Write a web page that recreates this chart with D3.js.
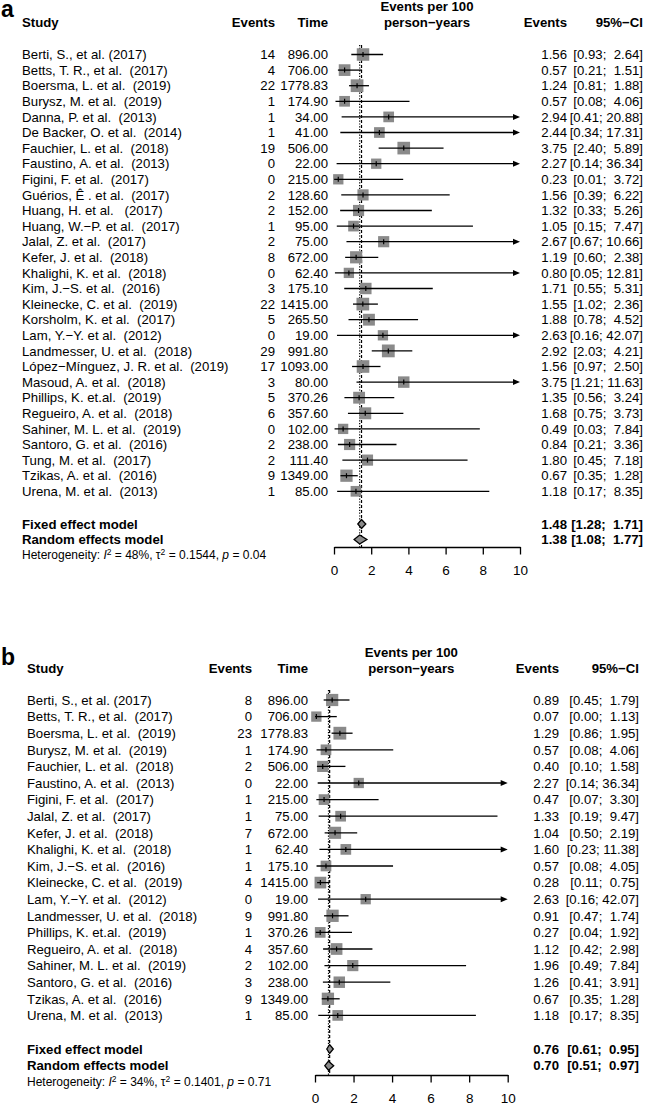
<!DOCTYPE html>
<html>
<head>
<meta charset="utf-8">
<script src="https://cdn.jsdelivr.net/npm/d3@7"></script>
<style>
  body { margin: 0; background: #fff; }
  svg text { font-family: "Liberation Sans", Arial, Helvetica, sans-serif; white-space: pre; }
</style>
</head>
<body>
<svg id="chart" width="649" height="1106"></svg>
<script>
// ---- panel a data ----
var studiesA = ["Berti, S., et al. (2017)", "Betts, T. R., et al.  (2017)", "Boersma, L. et al.  (2019)",
  "Burysz, M. et al.  (2019)", "Danna, P. et al.  (2013)", "De Backer, O. et al.  (2014)",
  "Fauchier, L. et al.  (2018)", "Faustino, A. et al.  (2013)", "Figini, F. et al.  (2017)",
  "Guérios, Ê . et al.  (2017)", "Huang, H. et al.   (2017)", "Huang, W.−P. et al.  (2017)",
  "Jalal, Z. et al.  (2017)", "Kefer, J. et al.  (2018)", "Khalighi, K. et al.  (2018)",
  "Kim, J.−S. et al.  (2016)", "Kleinecke, C. et al.  (2019)", "Korsholm, K. et al.  (2017)",
  "Lam, Y.−Y. et al.  (2012)", "Landmesser, U. et al.  (2018)", "López−Mínguez, J. R. et al.  (2019)",
  "Masoud, A. et al.  (2018)", "Phillips, K. et.al.  (2019)", "Regueiro, A. et al.  (2018)",
  "Sahiner, M. L. et al.  (2019)", "Santoro, G. et al.  (2016)", "Tung, M. et al.  (2017)",
  "Tzikas, A. et al.  (2016)", "Urena, M. et al.  (2013)"];
var eventsA = [14, 4, 22, 1, 1, 1, 19, 0, 0, 2, 2, 1, 2, 8, 0, 3, 22, 5, 0, 29, 17, 3, 5, 6, 0, 2, 2, 9, 1];
var timeA = [896.00, 706.00, 1778.83, 174.90, 34.00, 41.00, 506.00, 22.00, 215.00, 128.60, 152.00, 95.00,
  75.00, 672.00, 62.40, 175.10, 1415.00, 265.50, 19.00, 991.80, 1093.00, 80.00, 370.26, 357.60,
  102.00, 238.00, 111.40, 1349.00, 85.00];
var rateA = [1.56, 0.57, 1.24, 0.57, 2.94, 2.44, 3.75, 2.27, 0.23, 1.56, 1.32, 1.05, 2.67, 1.19, 0.80,
  1.71, 1.55, 1.88, 2.63, 2.92, 1.56, 3.75, 1.35, 1.68, 0.49, 0.84, 1.80, 0.67, 1.18];
var lowerA = [0.93, 0.21, 0.81, 0.08, 0.41, 0.34, 2.40, 0.14, 0.01, 0.39, 0.33, 0.15, 0.67, 0.60, 0.05,
  0.55, 1.02, 0.78, 0.16, 2.03, 0.97, 1.21, 0.56, 0.75, 0.03, 0.21, 0.45, 0.35, 0.17];
var upperA = [2.64, 1.51, 1.88, 4.06, 20.88, 17.31, 5.89, 36.34, 3.72, 6.22, 5.26, 7.47, 10.66, 2.38, 12.81,
  5.31, 2.36, 4.52, 42.07, 4.21, 2.50, 11.63, 3.24, 3.73, 7.84, 3.36, 7.18, 1.28, 8.35];
var fixedA = [1.48, 1.28, 1.71];
var randomA = [1.38, 1.08, 1.77];
var hetA = { i2: "48%", tau2: "0.1544", p: "0.04" };

// ---- panel b data ----
var studiesB = ["Berti, S., et al. (2017)", "Betts, T. R., et al.  (2017)", "Boersma, L. et al.  (2019)",
  "Burysz, M. et al.  (2019)", "Fauchier, L. et al.  (2018)", "Faustino, A. et al.  (2013)",
  "Figini, F. et al.  (2017)", "Jalal, Z. et al.  (2017)", "Kefer, J. et al.  (2018)",
  "Khalighi, K. et al.  (2018)", "Kim, J.−S. et al.  (2016)", "Kleinecke, C. et al.  (2019)",
  "Lam, Y.−Y. et al.  (2012)", "Landmesser, U. et al.  (2018)", "Phillips, K. et.al.  (2019)",
  "Regueiro, A. et al.  (2018)", "Sahiner, M. L. et al.  (2019)", "Santoro, G. et al.  (2016)",
  "Tzikas, A. et al.  (2016)", "Urena, M. et al.  (2013)"];
var eventsB = [8, 0, 23, 1, 2, 0, 1, 1, 7, 1, 1, 4, 0, 9, 1, 4, 2, 3, 9, 1];
var timeB = [896.00, 706.00, 1778.83, 174.90, 506.00, 22.00, 215.00, 75.00, 672.00, 62.40, 175.10, 1415.00,
  19.00, 991.80, 370.26, 357.60, 102.00, 238.00, 1349.00, 85.00];
var rateB = [0.89, 0.07, 1.29, 0.57, 0.40, 2.27, 0.47, 1.33, 1.04, 1.60, 0.57, 0.28, 2.63, 0.91, 0.27,
  1.12, 1.96, 1.26, 0.67, 1.18];
var lowerB = [0.45, 0.00, 0.86, 0.08, 0.10, 0.14, 0.07, 0.19, 0.50, 0.23, 0.08, 0.11, 0.16, 0.47, 0.04,
  0.42, 0.49, 0.41, 0.35, 0.17];
var upperB = [1.79, 1.13, 1.95, 4.06, 1.58, 36.34, 3.30, 9.47, 2.19, 11.38, 4.05, 0.75, 42.07, 1.74, 1.92,
  2.98, 7.84, 3.91, 1.28, 8.35];
var fixedB = [0.76, 0.61, 0.95];
var randomB = [0.70, 0.51, 0.97];
var hetB = { i2: "34%", tau2: "0.1401", p: "0.71" };

var axisTicks = [0, 2, 4, 6, 8, 10];

var svg = d3.select("#chart");
var FS = 13.2;

function ciText(lo, hi) {
  var h = hi.toFixed(2);
  if (hi < 10) h = " " + h;
  return "[" + lo.toFixed(2) + "; " + h + "]";
}

function drawPanel(p) {
  var g = svg.append("g");
  var x = d3.scaleLinear().domain([0, 10]).range([p.x0, p.x1]);
  var n = p.studies.length;
  var rowY = function(i) { return p.row0 + i * p.step; };

  // box size from random-effects weight
  var w = p.events.map(function(e) { return Math.sqrt(1 / (1 / Math.max(e, 0.5) + +p.het.tau2)); });
  var size = d3.scaleLinear().domain(d3.extent(w)).range([10.3, 12.8]);

  g.append("text").attr("x", 1).attr("y", p.labelY)
    .attr("font-size", 23).attr("font-weight", "bold").text(p.label);

  // headers
  var hdr = g.append("g").attr("font-size", FS).attr("font-weight", "bold");
  hdr.append("text").attr("x", p.studyX).attr("y", p.hdrY).text("Study");
  hdr.append("text").attr("x", p.eventsX).attr("y", p.hdrY).attr("text-anchor", "end").text("Events");
  hdr.append("text").attr("x", p.timeX).attr("y", p.hdrY).attr("text-anchor", "end").text("Time");
  hdr.append("text").attr("x", (p.x0 + p.x1) / 2).attr("y", p.hdrY - 16).attr("text-anchor", "middle").text("Events per 100");
  hdr.append("text").attr("x", (p.x0 + p.x1) / 2).attr("y", p.hdrY).attr("text-anchor", "middle").text("person−years");
  hdr.append("text").attr("x", p.estX).attr("y", p.hdrY).attr("text-anchor", "end").text("Events");
  hdr.append("text").attr("x", p.ciX).attr("y", p.hdrY).attr("text-anchor", "end").text("95%−CI");

  // reference lines
  g.append("line").attr("x1", x(p.fixed[0])).attr("x2", x(p.fixed[0]))
    .attr("y1", p.lineTop).attr("y2", p.axisY)
    .attr("stroke", "#000").attr("stroke-width", 1.2).attr("stroke-dasharray", "3,2");
  g.append("line").attr("x1", x(p.random[0])).attr("x2", x(p.random[0]))
    .attr("y1", p.lineTop).attr("y2", p.axisY)
    .attr("stroke", "#000").attr("stroke-width", 1.2).attr("stroke-dasharray", "1.2,1.6");

  var rows = g.selectAll(".row").data(d3.range(n)).join("g").attr("class", "row");
  rows.append("text").attr("x", p.studyX).attr("y", rowY).attr("dy", "0.36em")
    .attr("font-size", FS).text(function(i) { return p.studies[i]; });
  rows.append("text").attr("x", p.eventsX).attr("y", rowY).attr("dy", "0.36em")
    .attr("font-size", FS).attr("text-anchor", "end").text(function(i) { return p.events[i]; });
  rows.append("text").attr("x", p.timeX).attr("y", rowY).attr("dy", "0.36em")
    .attr("font-size", FS).attr("text-anchor", "end").text(function(i) { return p.time[i].toFixed(2); });
  rows.append("text").attr("x", p.estX).attr("y", rowY).attr("dy", "0.36em")
    .attr("font-size", FS).attr("text-anchor", "end").text(function(i) { return p.rate[i].toFixed(2); });
  rows.append("text").attr("x", p.ciX).attr("y", rowY).attr("dy", "0.36em")
    .attr("font-size", FS).attr("text-anchor", "end").text(function(i) { return ciText(p.lower[i], p.upper[i]); });

  rows.append("rect")
    .attr("x", function(i) { return x(p.rate[i]) - size(w[i]) / 2; })
    .attr("y", function(i) { return rowY(i) - size(w[i]) / 2; })
    .attr("width", function(i) { return size(w[i]); })
    .attr("height", function(i) { return size(w[i]); })
    .attr("fill", "#8a8a8a");
  rows.append("line")
    .attr("x1", function(i) { return x(p.lower[i]); })
    .attr("x2", function(i) { return p.upper[i] > 10 ? x(10) - 5 : x(p.upper[i]); })
    .attr("y1", rowY).attr("y2", rowY)
    .attr("stroke", "#000").attr("stroke-width", 1.3);
  rows.append("line")
    .attr("x1", function(i) { return x(p.rate[i]); })
    .attr("x2", function(i) { return x(p.rate[i]); })
    .attr("y1", function(i) { return rowY(i) - 2.5; })
    .attr("y2", function(i) { return rowY(i) + 2.5; })
    .attr("stroke", "#000").attr("stroke-width", 1.2);
  rows.filter(function(i) { return p.upper[i] > 10; }).append("path")
    .attr("d", function(i) {
      var xe = x(10), y = rowY(i);
      return "M" + xe + "," + y + "L" + (xe - 7) + "," + (y - 3) + "L" + (xe - 7) + "," + (y + 3) + "Z";
    })
    .attr("fill", "#000");

  // pooled estimates
  var pooled = [["Fixed effect model", p.fixed, p.fixedY], ["Random effects model", p.random, p.randomY]];
  pooled.forEach(function(d) {
    var est = d[1], y = d[2];
    g.append("text").attr("x", p.studyX).attr("y", y).attr("dy", "0.36em")
      .attr("font-size", FS).attr("font-weight", "bold").text(d[0]);
    g.append("text").attr("x", p.estX).attr("y", y).attr("dy", "0.36em")
      .attr("font-size", FS).attr("font-weight", "bold").attr("text-anchor", "end").text(est[0].toFixed(2));
    g.append("text").attr("x", p.ciX).attr("y", y).attr("dy", "0.36em")
      .attr("font-size", FS).attr("font-weight", "bold").attr("text-anchor", "end").text(ciText(est[1], est[2]));
    g.append("path")
      .attr("d", "M" + x(est[1]) + "," + y + "L" + x(est[0]) + "," + (y - 4.5) + "L" + x(est[2]) + "," + y +
        "L" + x(est[0]) + "," + (y + 4.5) + "Z")
      .attr("fill", "#8a8a8a").attr("stroke", "#000").attr("stroke-width", 1.3);
  });

  // heterogeneity
  var ht = g.append("text").attr("x", p.studyX).attr("y", p.hetY).attr("dy", "0.36em").attr("font-size", 12);
  ht.append("tspan").text("Heterogeneity: ");
  ht.append("tspan").attr("font-style", "italic").text("I");
  ht.append("tspan").attr("font-size", 8.5).attr("dy", -4.5).text("2");
  ht.append("tspan").attr("dy", 4.5).text(" = " + p.het.i2 + ", τ");
  ht.append("tspan").attr("font-size", 8.5).attr("dy", -4.5).text("2");
  ht.append("tspan").attr("dy", 4.5).text(" = " + p.het.tau2 + ", ");
  ht.append("tspan").attr("font-style", "italic").text("p");
  ht.append("tspan").text(" = " + p.het.p);

  // axis
  var ax = g.append("g").attr("transform", "translate(0," + p.axisY + ")")
    .call(d3.axisBottom(x).tickValues(axisTicks).tickFormat(d3.format("d"))
      .tickSize(7.5).tickSizeOuter(0).tickPadding(11));
  ax.selectAll("path, line").attr("stroke", "#000").attr("stroke-width", 1.3);
  ax.selectAll("text").attr("font-size", 13.5).attr("fill", "#000")
    .attr("font-family", "'Liberation Sans', Arial, sans-serif");
}

drawPanel({
  label: "a", labelY: 17,
  studies: studiesA, events: eventsA, time: timeA, rate: rateA, lower: lowerA, upper: upperA,
  fixed: fixedA, random: randomA, het: hetA,
  studyX: 22, eventsX: 275, timeX: 328, x0: 334, x1: 520, estX: 567, ciX: 643,
  hdrY: 27, row0: 54.5, step: 15.6, fixedY: 524, randomY: 539.5, hetY: 555,
  axisY: 547, lineTop: 45
});

drawPanel({
  label: "b", labelY: 665,
  studies: studiesB, events: eventsB, time: timeB, rate: rateB, lower: lowerB, upper: upperB,
  fixed: fixedB, random: randomB, het: hetB,
  studyX: 27, eventsX: 252, timeX: 308, x0: 315, x1: 507.7, estX: 559, ciX: 639,
  hdrY: 673, row0: 700, step: 16.6, fixedY: 1049, randomY: 1065.7, hetY: 1082,
  axisY: 1075, lineTop: 690
});
</script>
</body>
</html>
